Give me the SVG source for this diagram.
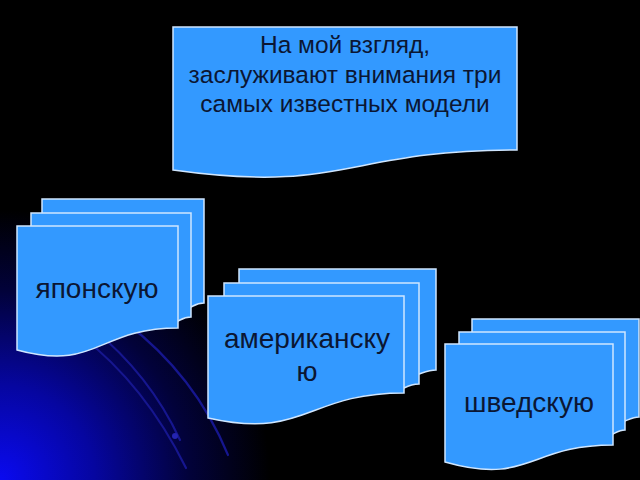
<svg xmlns="http://www.w3.org/2000/svg" width="640" height="480" viewBox="0 0 640 480">
  <defs>
    <radialGradient id="glow" gradientUnits="userSpaceOnUse" cx="0" cy="480" r="270">
      <stop offset="0" stop-color="#0a0af0"/>
      <stop offset="0.35" stop-color="#0606a0"/>
      <stop offset="0.7" stop-color="#02023a"/>
      <stop offset="1" stop-color="#000000"/>
    </radialGradient>
    <style>
      .doc { fill: #3399ff; stroke: #cfe6ff; stroke-width: 1.5; }
      .lbl { font-family: "Liberation Sans", Arial, sans-serif; fill: #0b1633; text-anchor: middle; }
      .deco { fill: none; stroke: #16168f; stroke-width: 2.2; stroke-linecap: round; }
    </style>
  </defs>

  <rect width="640" height="480" fill="#000000"/>
  <rect width="640" height="480" fill="url(#glow)"/>

  <g id="decor">
    <path class="deco" d="M 80 335 Q 145 385 186 468"/>
    <path class="deco" d="M 92 328 Q 150 375 180 440"/>
    <path class="deco" d="M 125 322 Q 195 375 228 455"/>
    <circle cx="175" cy="436" r="3" fill="#2424b0"/>
  </g>

  <g id="top-note">
    <path class="doc" d="M 173 27 H 517 V 150 C 345 150 345 194 173 170 Z"/>
    <text class="lbl" font-size="24.5" x="345" y="53">На мой взгляд,</text>
    <text class="lbl" font-size="24.5" x="345" y="83">заслуживают внимания три</text>
    <text class="lbl" font-size="24.5" x="345" y="112">самых известных модели</text>
  </g>

  <g id="japanese">
    <path class="doc" d="M 42 199 H 204 V 303 C 198 303 195 305 191 307 L 42 307 Z"/>
    <path class="doc" d="M 31 213 H 191 V 317 C 185 317 182 319 178 321 L 31 321 Z"/>
    <path class="doc" d="M 17 226 H 178 V 328 C 97 328 97 372 17 350 Z"/>
    <text class="lbl" font-size="28" x="97" y="298">японскую</text>
  </g>

  <g id="american">
    <path class="doc" d="M 239 269 H 436 V 370 C 430 370 425 372 419 374 L 239 374 Z"/>
    <path class="doc" d="M 224 283 H 419 V 384 C 413 384 408 386 404 388 L 224 388 Z"/>
    <path class="doc" d="M 208 296 H 404 V 393 C 306 393 306 440 208 418 Z"/>
    <text class="lbl" font-size="28" x="307" y="348">американску</text>
    <text class="lbl" font-size="28" x="307" y="381">ю</text>
  </g>

  <g id="swedish">
    <path class="doc" d="M 472 319 H 639 V 417 C 634 417 630 419 625 421 L 472 421 Z"/>
    <path class="doc" d="M 459 332 H 625 V 430 C 620 430 617 432 613 434 L 459 434 Z"/>
    <path class="doc" d="M 445 344 H 613 V 445 C 529 445 529 486 445 462 Z"/>
    <text class="lbl" font-size="28" x="529" y="412">шведскую</text>
  </g>

  <g id="connectors"></g>
</svg>
